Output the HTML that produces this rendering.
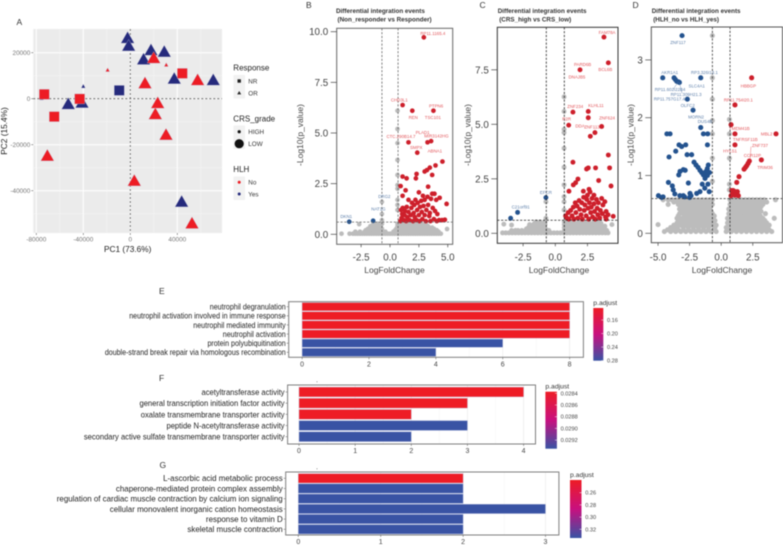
<!DOCTYPE html>
<html lang="en">
<head>
<meta charset="utf-8">
<title>Differential integration events figure</title>
<style>
html,body{margin:0;padding:0;background:#fff;width:783px;height:546px;overflow:hidden}
svg{display:block;filter:blur(.4px);font-family:"Liberation Sans",sans-serif}
</style>
</head>
<body>
<svg id="fig" xmlns="http://www.w3.org/2000/svg" width="783" height="546" viewBox="0 0 783 546">
  <rect width="783" height="546" fill="#fff"/>
  <text x="16.5" y="25" font-size="8.5" fill="#333">A</text>
  <text x="306" y="8" font-size="8.5" fill="#333">B</text>
  <text x="479.5" y="8" font-size="8.5" fill="#333">C</text>
  <text x="632.5" y="8" font-size="8.5" fill="#333">D</text>
  <text x="159" y="294" font-size="8.5" fill="#333">E</text>
  <text x="159" y="381" font-size="8.5" fill="#333">F</text>
  <text x="159.5" y="468" font-size="8.5" fill="#333">G</text>

  <g id="pca"></g>
  <g id="pca-legend">
    <text x="233.3" y="70.5" font-size="8" fill="#222">Response</text>
    <rect x="233.5" y="75" width="11.5" height="23.5" fill="#f2f2f2"/>
    <rect x="237.5" y="79.3" width="3.4" height="3.4" fill="#222"/>
    <polygon points="239.2,91 241.2,94.4 237.2,94.4" fill="#222"/>
    <text x="248.3" y="83.4" font-size="6.3" fill="#333">NR</text>
    <text x="248.3" y="95.4" font-size="6.3" fill="#333">OR</text>
    <text x="233.3" y="121.5" font-size="8" fill="#222">CRS_grade</text>
    <rect x="233.5" y="125.5" width="11.5" height="23.5" fill="#f2f2f2"/>
    <circle cx="239.2" cy="131.7" r="1.6" fill="#111"/>
    <circle cx="239.2" cy="143.7" r="4.6" fill="#111"/>
    <text x="248.3" y="134" font-size="6.3" fill="#333">HIGH</text>
    <text x="248.3" y="146" font-size="6.3" fill="#333">LOW</text>
    <text x="233.3" y="171.8" font-size="8" fill="#222">HLH</text>
    <rect x="233.5" y="176.5" width="11.5" height="23.5" fill="#f2f2f2"/>
    <circle cx="239.2" cy="182.3" r="1.5" fill="#ed1c24"/>
    <circle cx="239.2" cy="194" r="1.5" fill="#252a7c"/>
    <text x="248.3" y="184.6" font-size="6.3" fill="#333">No</text>
    <text x="248.3" y="196.3" font-size="6.3" fill="#333">Yes</text>
  </g>

  <g id="volB"></g>
  <g id="volC"></g>
  <g id="volD"></g>
  <g id="barE"></g>
  <g id="barF"></g>
  <g id="barG"></g>
  <circle cx="317" cy="381.7" r=".5" fill="#777"/>
  <circle cx="317" cy="468.7" r=".5" fill="#777"/>
</svg>

<script>
/* ---------- Panel A data ---------- */
const pc1 = [-2.3,-1.4,17.6,28.9,11.3,37.4,70.6,-52.8,-41.1,43.7,19.9,12.5,57.3,23.3,21.3,30.4,-70.6,3.4,52.5,-19.3,30.6,-40,-75.5,-73.2,-64.7,-43.1,44.3,-9.4];
const pc2 = [26.7,23.3,21.4,20.7,17.4,9,8.4,-2,-1.4,-44.5,18,7,8.4,-1.6,-6.4,-15.4,-24.5,-35.4,-53.9,12.6,14.8,5.5,0.3,1.9,-7.8,-0.1,11,3.6];
const response = ['OR','OR','OR','OR','OR','OR','OR','OR','OR','OR','OR','OR','OR','OR','OR','OR','OR','OR','OR','OR','OR','OR','OR','NR','NR','NR','NR','NR'];
const crsGrade = ['LOW','LOW','LOW','LOW','LOW','LOW','LOW','LOW','LOW','LOW','LOW','LOW','LOW','LOW','LOW','LOW','LOW','LOW','LOW','HIGH','HIGH','HIGH','HIGH','LOW','LOW','LOW','LOW','LOW'];
const hlh = ['Yes','Yes','Yes','Yes','Yes','Yes','Yes','Yes','Yes','Yes','No','No','No','No','No','No','No','No','No','No','No','Yes','Yes','No','No','No','No','Yes'];
const pcaXTicks = [-80000,-40000,0,40000];
const pcaXMinor = [-60000,-20000,20000,60000];
const pcaYTicks = [-40000,-20000,0,20000];
const pcaYMinor = [-50000,-30000,-10000,10000];

/* ---------- Panel B data ---------- */
const bGreyRows = [
 [0.03,[-4.2,-3.5,-3.2,-3,-2.8,-2.6,-2.4,-2.2,-2,-1.8,-1.6,-1.4,-1.2,-1,-.8,-.6,-.4,-.2,0,.2,.4,.6,.8,1,1.2,1.4,1.6,1.8,2,2.2,2.4,2.6,2.8,3,3.2,3.4,3.6,3.8,4,4.2,4.4]],
 [0.13,[-3,-2.6,-2.2,-1.9,-1.6,-1.3,-1,-.7,-.4,.3,.6,.9,1.2,1.5,1.8,2.1,2.4,2.7,3,3.3,3.6,3.9,4.2]],
 [0.2,[-2.1,-1.75,-1.45,-1.15,-.85,.45,.75,1.05,1.35,1.65,1.95,2.25,2.55,2.85,3.15,3.45,3.75,4.05]],
 [0.27,[-1.9,-1.6,-1.3,-1,-.7,.55,.8,1.1,1.4,1.7,2,2.3,2.6,2.9,3.2,3.5,3.8]],
 [0.33,[-1.75,-1.45,-1.15,-.85,.7,.95,1.25,1.55,1.85,2.15,2.45,2.75,3.05,3.35,3.65]],
 [0.4,[-1.7,-1.4,-1.1,-.8,.65,.9,1.2,1.5,1.8,2.1,2.4,2.7,3,3.3]],
 [0.46,[-1.5,-1.25,-.95,.75,1.05,1.35,1.65,1.95,2.25,2.55,2.85,3.15]],
 [0.52,[-1.4,-1.1,-.7,.65,.9,1.2,1.5,1.9,2.3,2.7,3.1]]
];
const bGreyExtra = [[-2.67,.5],[4.94,.26],[-.7,.7],[-.7,1],[-.7,1.6],[.65,6.1],[.65,5.2],[.65,4.5],[.65,3.67],[.65,2.93],[.65,2.43],[.65,2.25],[.65,1.7],[.65,1.45],[.65,1.2]];
const bBlue = [[-3.53,.62],[-1.46,.67]];
const bRed = [[2.93,9.72],[1.09,6.38],[1.93,6.1],[3.76,6.1],[1.6,4.54],[3.25,4.54],[3.56,4.6],[2.36,4.03],[4.54,3.59],[3.94,3.4],[3.45,3.29],[3.2,3.17],[3,3.1],[1.09,2.85],[1.44,2.76],[2.3,2.98],[2.24,2.76],[3.65,2.93],[3.3,2.35],[.92,2.38],[1.35,2.17],[2.5,2.07],[1.09,1.9],
 [.9,.65],[1,.8],[1.05,1],[.95,1.2],[1.1,1.3],[1.2,.7],[1.25,.95],[1.3,1.15],[1.4,.65],[1.45,1.35],[1.5,.85],[1.6,1.1],[1.6,1.7],[1.7,.7],[1.8,.95],[1.85,1.3],[1.9,1.55],[2,.65],[2.05,1.05],[2.1,1.45],[2.15,.85],[2.2,1.7],[2.3,.7],[2.35,1.2],[2.4,1.55],[2.5,.95],[2.55,.65],[2.6,1.35],[2.7,1.65],[2.75,1.1],[2.8,.75],[2.85,1.9],[2.9,1.4],[3,.95],[3,1.7],[3.1,.65],[3.15,1.2],[3.25,1.85],[3.3,1.45],[3.4,.9],[3.45,1.05],[3.5,.65],[3.55,1.75],[3.65,2],[3.7,1.3],[3.8,.75],[3.85,2],[3.9,1.15],[4,1.7],[4.05,.65],[4.1,1],[4.25,.7],[4.3,1.8],[4.5,.7],[4.75,.72],[4.9,1.5]];
const bRedLabels = [['RP11.1165.4',3.71,9.92],['CHD3L1',.8,6.63],['PTPN6',3.99,6.33],['REN',2.01,5.76],['TSC101',3.71,5.76],['CTC.290B14.7',.95,4.82],['PLAD1',2.82,5.02],['MIR3142HG',4.02,4.85],['SMPX',2.27,4.29],['ABNA1',3.88,4.11]];
const bBlueLabels = [['DKN1',-3.79,.87],['NAT1G',-1,1.25],['DRG2',-.49,1.86]];
const bLeaders = [];
const bXTicks = [-2.5,0,2.5,5];
const bXTickLabels = ['-2.5','0.0','2.5','5.0'];
const bYTicks = [0,2.5,5,7.5,10];
const bYTickLabels = ['0.0','2.5','5.0','7.5','10.0'];

/* ---------- Panel C data ---------- */
const cGreyRows = [
 [0.02,[-4.1,-3.85,-3.6,-3.35,-3.1,-2.85,-2.6,-2.35,-2.1,-1.85,-1.6,-1.35,-1.1,-.85,-.6,-.35,-.1,.15,.4,.65,.9,1.15,1.4,1.65,1.9,2.15,2.4,2.65,2.9,3.15,3.4,3.65,3.9,4.1]],
 [0.13,[-3.4,-3.1,-2.9,-2.6,-2.3,-2,-1.7,-1.4,-1.1,-.8,-.5,.7,1,1.3,1.6,1.9,2.2,2.5,2.8,3.1,3.4,3.7,4]],
 [0.2,[-2.25,-1.95,-1.65,-1.35,-1.05,-.75,.85,1.15,1.45,1.75,2.05,2.35,2.65,2.95,3.25,3.55,3.85]],
 [0.26,[-2.1,-1.8,-1.5,-1.2,-.9,.7,1,1.3,1.6,1.9,2.2,2.5,2.8,3.1,3.4,3.7]],
 [0.33,[-1.85,-1.55,-1.25,-.95,.85,1.15,1.45,1.75,2.05,2.35,2.65,2.95,3.25,3.55,3.85]],
 [0.4,[-2,-1.7,-1.4,-1.1,-.8,.7,1,1.3,1.6,1.9,2.2,2.5,2.8,3.1,3.4,4.4]],
 [0.46,[-1.6,-1.3,-1,.85,1.15,1.45,1.75,2.05,2.35,2.65,2.95,3.25,3.55]],
 [0.52,[-1.5,-1.2,-.8,.7,1,1.4,1.8,2.2,2.6,3,3.4]]
];
const cGreyExtra = [[-4,.42],[-3.4,.38],[-.73,1.45],[-.73,.69],[.68,6.26],[.68,5.59],[.68,4.77],[.68,4.62],[.68,3.9],[.68,3.03],[.68,2.22],[.68,1.68],[.68,1.45],[.68,1.07]];
const cBlue = [[-.73,1.64],[-2.93,.96],[-3.47,.69]];
const cRed = [[3.78,9],[4.12,7.82],[1.92,7.5],[1.37,5.56],[2.56,5.59],[2.56,5.3],[1.04,4.96],[3.6,4.9],[3.08,4.62],[2.72,4.45],[4.12,3.59],[1.37,3.26],[4.22,3],[3.13,3],[2.56,3],[2.43,2.95],[3.37,2.42],[1.76,2.49],[1.58,2.32],[1.4,2.22],[4.33,2.17],[1.06,1.93],[2.18,1.93],[2.62,2.02],
 [.8,.8],[.9,.7],[1,.95],[1.05,.65],[1.2,1.05],[1.3,.8],[1.4,1.2],[1.45,.65],[1.55,1.4],[1.6,.95],[1.7,1.25],[1.75,.7],[1.85,1.5],[1.9,1.1],[2,.85],[2.05,1.4],[2.1,.65],[2.2,1.65],[2.25,1.05],[2.3,1.3],[2.4,.8],[2.45,1.55],[2.5,1.75],[2.55,1.15],[2.6,.65],[2.65,1.4],[2.7,1.9],[2.75,.95],[2.8,1.2],[2.85,1.6],[2.9,.75],[3,1.35],[3,1.75],[3.05,1],[3.1,.65],[3.2,1.55],[3.25,1.15],[3.3,.85],[3.35,1.4],[3.45,.7],[3.5,1.05],[3.6,1.6],[3.65,.9],[3.7,1.3],[3.85,1.45],[3.9,.75],[3.95,1],[4.1,.85],[4.5,.78],[3.95,.65]];
const cRedLabels = [['FAM78A',4.02,9.2],['PARD6B',2.12,7.74],['BCL6B',3.89,7.52],['DNAJB5',1.68,7.16],['ZNF234',1.55,5.82],['KLHL11',3.16,5.86],['ZNF624',4.02,5.3],['R2R',.88,5.25],['DDA',1.92,4.92],['ZNF113',2.85,4.87]];
const cBlueLabels = [['EFCR',-.73,1.87],['C21orf91',-2.69,1.21]];
const cLeaders = [];
const cXTicks = [-2.5,0,2.5];
const cXTickLabels = ['-2.5','0.0','2.5'];
const cYTicks = [0,2.5,5,7.5];
const cYTickLabels = ['0.0','2.5','5.0','7.5'];

/* ---------- Panel D data ---------- */
const dGreyRows = [
 [0.58,[-4.6,-4.2,-3.9,-3.6,-3.3,-3,-2.7,-2.4,-2.1,-1.8,-1.5,-1.2,-.9,-.7,.7,1,1.3,1.6,1.9,2.2,2.5,2.8,3.1,3.4,4.3]],
 [0.54,[-3.75,-3.45,-3.15,-2.85,-2.55,-2.25,-1.95,-1.65,-1.35,-1.05,.85,1.15,1.45,1.75,2.05,2.35,2.65,2.95,3.25,3.6]],
 [0.5,[-4.2,-3.4,-3,-2.6,-2.2,-1.8,-1.4,-1,-.7,.7,1,1.4,1.8,2.2,2.6,3,3.3]],
 [0.46,[-3.2,-2.8,-2.4,-2,-1.6,-1.2,-.85,.8,1.2,1.6,2,2.4,2.8,3.15]],
 [0.42,[-3.3,-2.9,-2.5,-2.1,-1.7,-1.3,-.9,.6,1,1.4,1.8,2.2,2.6,3]],
 [0.38,[-3.1,-2.7,-2.3,-1.9,-1.5,-1.1,-.8,.75,1.15,1.55,1.95,2.35,2.75,3.15]],
 [0.34,[-3.3,-3,-2.6,-2.2,-1.8,-1.4,-1,-.7,.6,.9,1.3,1.7,2.1,2.5,2.9,3.5]],
 [0.3,[-3.4,-2.85,-2.45,-2.05,-1.65,-1.25,-.85,-.55,.75,1.1,1.5,1.9,2.3,2.7,3.1]],
 [0.26,[-3.5,-3.1,-2.7,-2.3,-1.9,-1.5,-1.1,-.7,.5,.9,1.3,1.7,2.1,2.5,2.9,3.3,4.2]],
 [0.22,[-3.3,-2.85,-2.45,-2.05,-1.65,-1.25,-.85,-.5,.7,1.05,1.45,1.85,2.25,2.65,3.05,3.45]],
 [0.18,[-3.5,-3,-2.6,-2.2,-1.8,-1.4,-1,-.6,.5,.8,1.2,1.6,2,2.4,2.8,3.2,3.6]],
 [0.14,[-3.75,-3.25,-2.8,-2.4,-2,-1.6,-1.2,-.8,-.4,.6,1,1.4,1.8,2.2,2.6,3,3.4,3.8]],
 [0.1,[-4,-3.5,-3,-2.6,-2.2,-1.8,-1.4,-1,-.5,.4,.8,1.2,1.6,2,2.4,2.8,3.2,3.6]],
 [0.06,[-4.25,-3.8,-3.4,-3,-2.6,-2.2,-1.8,-1.4,-1,-.6,.6,1,1.4,1.8,2.2,2.6,3,3.4,3.8]],
 [0.03,[-4.5,-4,-3.6,-3.2,-2.8,-2.4,-2,-1.6,-1.2,-.8,-.4,.4,.8,1.2,1.6,2,2.4,2.8,3.2,3.6,4]]
];
const dGreyExtra = [[-5,.15],[-.7,3.42],[-.7,2.69],[-.7,2.32],[-.7,1.95],[-.7,1.72],[-.7,1.3],[-.7,.9],[.65,1.97],[.65,1.72],[.65,1.3],[.65,.85],[.65,.75]];
const dBlue = [[-3.1,3.42],[-4.63,2.69],[-3.73,2.69],[-3.63,2.66],[-3.52,2.63],[-3.39,2.62],[-3.31,2.61],[-1.62,2.69],[-2.68,2.32],[-2.23,2.13],[-1.62,1.83],[-4.3,1.72],[-4.05,1.72],[-1.41,1.72],[-1.07,1.72],[-1.09,1.53],[-3.34,1.53],[-3.13,1.5],[-2.81,1.53],[-3.6,1.42],[-4.13,1.32],[-2.34,1.36],[-2.7,1.36],[-2.15,1.23],[-1.99,1.18],[-1.83,1.14],[-1.68,1.09],[-1.54,1.05],[-3,1.1],[-3.26,1.07],[-3.36,1.01],[-2.85,1.09],[-1.02,1.18],[-1.1,1.12],[-1.2,1.07],[-1.41,1.01],[-1.28,.95],[-1.09,1],[-.93,1.05],[-4.18,.88],[-3.87,.82],[-3.8,.75],[-3.67,.68],[-2.6,.87],[-.95,.72],[-1.68,.72],[-1.94,.69],[-2.47,.69],[-2.39,.65],[-3,.65],[-3.27,.65],[-4.97,.65],[-4.71,.62],[-1.05,.85],[-1.5,.85],[-1.3,.78],[-2.5,.62],[-2.9,.63],[-4.6,.63]];
const dRed = [[2.41,2.69],[1.09,2.22],[.78,1.88],[4.34,1.72],[1.09,1.72],[1.09,1.53],[3.18,1.27],[2.23,1.25],[2.13,1.21],[2.02,1.17],[1.92,1.14],[1.81,1.11],[1.41,.98],[1.23,.88],[.83,.74],[1.09,.72],[1.28,.72],[.88,.68],[1.09,.66],[1.36,.65],[.78,.65],[.95,.74]];
const dRedLabels = [['HBBGP',2.15,2.55],['RP11.754I20.1',1.36,2.31],['TMEM41B',1.44,1.81],['TNFRSF11B',1.91,1.62],['ZNF737',3.07,1.52],['HYLS1',.7,1.42],['CCR12P',2.47,1.35],['TRIM36',3.47,1.14],['MBL2',3.6,1.72]];
const dBlueLabels = [['ZNF117',-3.42,3.3],['AKR1A1',-4.08,2.78],['RP3.326I13.1',-1.33,2.78],['SLC4A1',-1.94,2.55],['RP11.602I22B4',-4.05,2.49],['RP11.309H21.3',-2.78,2.4],['RP11.757G17.4',-4.1,2.32],['OLFC2',-2.65,2.21],['MORN2',-1.99,2.01],['DUS4B',-1.28,1.93]];
const dLeaders = [[-3.39,2.62,-3.78,2.5,'#5f80ab'],[-3.31,2.61,-3.1,2.42,'#5f80ab'],[2.36,1.5,2.28,1.27,'#e2555a']];
const dXTicks = [-5,-2.5,0,2.5];
const dXTickLabels = ['-5.0','-2.5','0.0','2.5'];
const dYTicks = [0,1,2,3];
const dYTickLabels = ['0','1','2','3'];

/* ---------- Bar panels data ---------- */
const eTerms = ['neutrophil degranulation','neutrophil activation involved in immune response','neutrophil mediated immunity','neutrophil activation','protein polyubiquitination','double-strand break repair via homologous recombination'];
const eCounts = [8,8,8,8,6,4];
const ePAdjust = [0.14,0.14,0.14,0.14,0.285,0.285];
const eXTicks = [0,2,4,6,8];
const eXMinor = [1,3,5,7];
const eLegendTicks = [0.16,0.20,0.24,0.28];
const eLegendLabels = ['0.16','0.20','0.24','0.28'];

const fTerms = ['acetyltransferase activity','general transcription initiation factor activity','oxalate transmembrane transporter activity','peptide N-acetyltransferase activity','secondary active sulfate transmembrane transporter activity'];
const fCounts = [4,3,2,3,2];
const fPAdjust = [0.0284,0.0284,0.0284,0.0293,0.0293];
const fXTicks = [0,1,2,3,4];
const fXMinor = [.5,1.5,2.5,3.5];
const fLegendTicks = [0.0284,0.0286,0.0288,0.0290,0.0292];
const fLegendLabels = ['0.0284','0.0286','0.0288','0.0290','0.0292'];

const gTerms = ['L-ascorbic acid metabolic process','chaperone-mediated protein complex assembly','regulation of cardiac muscle contraction by calcium ion signaling','cellular monovalent inorganic cation homeostasis','response to vitamin D','skeletal muscle contraction'];
const gCounts = [2,2,2,3,2,2];
const gPAdjust = [0.245,0.335,0.335,0.335,0.335,0.335];
const gXTicks = [0,1,2,3];
const gXMinor = [.5,1.5,2.5];
const gLegendTicks = [0.26,0.28,0.30,0.32];
const gLegendLabels = ['0.26','0.28','0.30','0.32'];

/* ---------- Helpers ---------- */
const NS = 'http://www.w3.org/2000/svg';
function mk(parent, tag, attrs, txt) {
  const el = document.createElementNS(NS, tag);
  for (const k in attrs) el.setAttribute(k, attrs[k]);
  if (txt !== undefined) el.textContent = txt;
  parent.appendChild(el);
  return el;
}
function flattenRows(rows) {
  const out = [];
  rows.forEach(function (r) { r[1].forEach(function (x) { out.push([x, r[0]]); }); });
  return out;
}
function lerpColor(t) {
  const stops = [[238,28,37],[200,16,127],[57,83,164]];
  const s = Math.max(0, Math.min(1, t)) * 2;
  const i = Math.min(1, Math.floor(s));
  const f = s - i;
  const c = [0,1,2].map(function (n) { return Math.round(stops[i][n] + (stops[i+1][n] - stops[i][n]) * f); });
  return 'rgb(' + c.join(',') + ')';
}

/* ---------- Panel A ---------- */
(function () {
  const g = document.getElementById('pca');
  const L = 33.3, R = 222, T = 29, B = 233;
  const sx = function (v) { return 130.3 + v * 0.001175; };
  const sy = function (v) { return 98.7 - v * 0.0023; };
  const bg = mk(g, 'rect', {x: L, y: T, width: R - L, height: B - T, fill: '#ebebeb'});
  
  
  pcaXMinor.forEach(function (v) {
    const l = mk(g, 'line', {x1: sx(v), x2: sx(v), y1: T, y2: B, stroke: '#f6f6f6', 'stroke-width': .5});
    
    
  });
  pcaYMinor.forEach(function (v) {
    const l = mk(g, 'line', {x1: L, x2: R, y1: sy(v), y2: sy(v), stroke: '#f6f6f6', 'stroke-width': .5});
    
    
  });
  pcaXTicks.forEach(function (v) {
    const l = mk(g, 'line', {x1: sx(v), x2: sx(v), y1: T, y2: B, stroke: '#fff', 'stroke-width': 1});
    
    
    const k = mk(g, 'line', {x1: sx(v), x2: sx(v), y1: B, y2: B + 2, stroke: '#666', 'stroke-width': .6});
    
    
    const t = mk(g, 'text', {x: sx(v), y: B + 8.3, 'font-size': 6.4, fill: '#777', 'text-anchor': 'middle'}, String(v));
    
    
  });
  pcaYTicks.forEach(function (v) {
    const l = mk(g, 'line', {x1: L, x2: R, y1: sy(v), y2: sy(v), stroke: '#fff', 'stroke-width': 1});
    
    
    const k = mk(g, 'line', {x1: L - 2, x2: L, y1: sy(v), y2: sy(v), stroke: '#666', 'stroke-width': .6});
    
    
    const t = mk(g, 'text', {x: L - 3, y: sy(v) + 2.3, 'font-size': 6.4, fill: '#777', 'text-anchor': 'end'}, String(v));
    
    
  });
  const h0 = mk(g, 'line', {x1: L, x2: R, y1: sy(0), y2: sy(0), stroke: '#555', 'stroke-width': .8, 'stroke-dasharray': '2 2'});
  
  
  const v0 = mk(g, 'line', {x1: sx(0), x2: sx(0), y1: T, y2: B, stroke: '#555', 'stroke-width': .8, 'stroke-dasharray': '2 2'});
  
  
  pc1.forEach(function (v, i) {
    const cx = sx(v * 1000), cy = sy(pc2[i] * 1000);
    const col = hlh[i] === 'No' ? '#ed1c24' : '#252a7c';
    const big = crsGrade[i] === 'LOW';
    let m;
    if (response[i] === 'NR') {
      const s = big ? 5 : 1.7;
      m = mk(g, 'rect', {x: cx - s, y: cy - s, width: 2 * s, height: 2 * s, fill: col, stroke: 'rgba(190,190,215,.6)', 'stroke-width': .5});
    } else {
      const w = big ? 6.6 : 2, h = big ? 5.8 : 1.9;
      m = mk(g, 'polygon', {points: cx + ',' + (cy - h) + ' ' + (cx + w) + ',' + (cy + h) + ' ' + (cx - w) + ',' + (cy + h), fill: col, stroke: 'rgba(190,190,215,.6)', 'stroke-width': .5});
    }
    
    
  });
  const xt = mk(g, 'text', {x: 127.7, y: 252, 'font-size': 8.3, fill: '#222', 'text-anchor': 'middle'}, 'PC1 (73.6%)');
  
  
  const yt = mk(g, 'text', {transform: 'translate(7,131) rotate(-90)', 'font-size': 8.3, fill: '#222', 'text-anchor': 'middle'}, 'PC2 (15.4%)');
  
  
})();

/* ---------- Volcano panels ---------- */
function drawVolcano(id, c, grey, blue, red, redLabels, blueLabels, leaders, xT, xTL, yT, yTL, title1, title2) {
  const g = document.getElementById(id);
  const sx = function (v) { return c.x0 + v * c.kx; };
  const sy = function (v) { return c.y0 - v * c.ky; };
  const bg = mk(g, 'rect', {x: c.L, y: c.T, width: c.R - c.L, height: c.B - c.T, fill: '#fff'});
  
  
  grey.forEach(function (p) {
    const m = mk(g, 'circle', {cx: sx(p[0]), cy: sy(p[1]), r: c.r, fill: '#bcbcbc'});
    
    
  });
  blue.forEach(function (p) {
    const m = mk(g, 'circle', {cx: sx(p[0]), cy: sy(p[1]), r: c.r, fill: '#24538f'});
    
    
  });
  red.forEach(function (p) {
    const m = mk(g, 'circle', {cx: sx(p[0]), cy: sy(p[1]), r: c.r, fill: '#cd1f2b'});
    
    
  });
  [-0.7, 0.7].forEach(function (v) {
    const l = mk(g, 'line', {x1: sx(v), x2: sx(v), y1: c.T, y2: c.B, stroke: c.dash, 'stroke-width': .8, 'stroke-dasharray': '2.2 1.6'});
    
    
  });
  const hl = mk(g, 'line', {x1: c.L, x2: c.R, y1: sy(0.6), y2: sy(0.6), stroke: c.dash, 'stroke-width': .8, 'stroke-dasharray': '2.2 1.6'});
  
  
  leaders.forEach(function (p) {
    const l = mk(g, 'line', {x1: sx(p[0]), y1: sy(p[1]), x2: sx(p[2]), y2: sy(p[3]), stroke: p[4], 'stroke-width': .4});
    
    
  });
  redLabels.forEach(function (p) {
    const t = mk(g, 'text', {x: sx(p[1]), y: sy(p[2]) + 1.5, 'font-size': 4.4, fill: '#e2555a', 'text-anchor': 'middle'}, p[0]);
    
    
  });
  blueLabels.forEach(function (p) {
    const t = mk(g, 'text', {x: sx(p[1]), y: sy(p[2]) + 1.5, 'font-size': 4.4, fill: '#5f80ab', 'text-anchor': 'middle'}, p[0]);
    
    
  });
  const fr = mk(g, 'rect', {x: c.L, y: c.T, width: c.R - c.L, height: c.B - c.T, fill: 'none', stroke: c.frame, 'stroke-width': 1});
  
  
  xT.forEach(function (v, i) {
    const k = mk(g, 'line', {x1: sx(v), x2: sx(v), y1: c.B, y2: c.B + 3, stroke: '#444', 'stroke-width': .7});
    
    
    const t = mk(g, 'text', {x: sx(v), y: 260.5, 'font-size': 9.8, fill: '#444', 'text-anchor': 'middle'}, xTL[i]);
    
    
  });
  yT.forEach(function (v, i) {
    const k = mk(g, 'line', {x1: c.L - 6, x2: c.L, y1: sy(v), y2: sy(v), stroke: '#444', 'stroke-width': .7});
    
    
    const t = mk(g, 'text', {x: c.L - 8.5, y: sy(v) + 3.5, 'font-size': 9.8, fill: '#444', 'text-anchor': 'end'}, yTL[i]);
    
    
  });
  const xa = mk(g, 'text', {x: c.xTitleX, y: 273, 'font-size': 8.5, fill: '#444', 'text-anchor': 'middle'}, 'LogFoldChange');
  
  
  const ya = mk(g, 'text', {transform: 'translate(' + c.yTitleX + ',135) rotate(-90)', 'font-size': 8.5, fill: '#444', 'text-anchor': 'middle'}, '-Log10(p_value)');
  
  
  const t1 = mk(g, 'text', {x: c.tx, y: 13, 'font-size': 6.3, 'font-weight': 'bold', fill: '#333'}, title1);
  
  
  const t2 = mk(g, 'text', {x: c.tx + 1.5, y: 21.5, 'font-size': 6.3, 'font-weight': 'bold', fill: '#333'}, title2);
  
  
}
drawVolcano('volB', {L:336.7,R:452.7,T:28.3,B:244.3,x0:390,kx:11.55,y0:234.3,ky:20.26,r:2.35,dash:'#666',frame:'#666',xTitleX:394.5,yTitleX:303,tx:336},
  flattenRows(bGreyRows).concat(bGreyExtra), bBlue, bRed, bRedLabels, bBlueLabels, bLeaders, bXTicks, bXTickLabels, bYTicks, bYTickLabels,
  'Differential integration events', '(Non_responder vs Responder)');
drawVolcano('volC', {L:497.3,R:618,T:27.3,B:243.3,x0:555.3,kx:12.87,y0:233.3,ky:21.8,r:2.45,dash:'#222',frame:'#333',xTitleX:559,yTitleX:470.5,tx:497.7},
  flattenRows(cGreyRows).concat(cGreyExtra), cBlue, cRed, cRedLabels, cBlueLabels, cLeaders, cXTicks, cXTickLabels, cYTicks, cYTickLabels,
  'Differential integration events', '(CRS_high vs CRS_low)');
drawVolcano('volD', {L:651.3,R:782.5,T:27,B:242.7,x0:721.2,kx:12.63,y0:233.3,ky:57.8,r:2.55,dash:'#333',frame:'#555',xTitleX:722,yTitleX:633.5,tx:651.7},
  flattenRows(dGreyRows).concat(dGreyExtra), dBlue, dRed, dRedLabels, dBlueLabels, dLeaders, dXTicks, dXTickLabels, dYTicks, dYTickLabels,
  'Differential integration events', '(HLH_no vs HLH_yes)');

/* ---------- Bar panels ---------- */
function drawBars(id, c, terms, counts, padj, xT, xM, legT, legL) {
  const g = document.getElementById(id);
  const sx = function (v) { return c.x0 + v * c.kx; };
  const pMin = Math.min.apply(null, padj), pMax = Math.max.apply(null, padj);
  xM.forEach(function (v) {
    const l = mk(g, 'line', {x1: sx(v), x2: sx(v), y1: c.T, y2: c.B, stroke: '#f3f3f3', 'stroke-width': .5});
    
    
  });
  xT.forEach(function (v) {
    const l = mk(g, 'line', {x1: sx(v), x2: sx(v), y1: c.T, y2: c.B, stroke: '#e8e8e8', 'stroke-width': .6});
    
    
  });
  const step = (c.lastY - c.firstY) / (terms.length - 1);
  terms.forEach(function (term, i) {
    const cy = c.firstY + step * i;
    const b = mk(g, 'rect', {x: sx(0), y: cy - c.barH / 2, width: sx(counts[i]) - sx(0), height: c.barH, fill: lerpColor((padj[i] - pMin) / (pMax - pMin)), stroke: 'rgba(190,195,225,.7)', 'stroke-width': .5});
    
    
    const k = mk(g, 'line', {x1: c.L - 2, x2: c.L, y1: cy, y2: cy, stroke: '#555', 'stroke-width': .5});
    
    
    const t = mk(g, 'text', {transform: 'translate(' + (c.L - 3) + ',' + (cy + 2.9) + ') scale(' + c.squeeze + ',1)', 'font-size': c.fs, fill: '#222', 'text-anchor': 'end'}, term);
    
    
  });
  const fr = mk(g, 'rect', {x: c.L, y: c.T, width: c.R - c.L, height: c.B - c.T, fill: 'none', stroke: '#7f7f7f', 'stroke-width': 1});
  
  
  xT.forEach(function (v) {
    const k = mk(g, 'line', {x1: sx(v), x2: sx(v), y1: c.B, y2: c.B + 2, stroke: '#555', 'stroke-width': .5});
    
    
    const t = mk(g, 'text', {x: sx(v), y: c.B + 9, 'font-size': 7, fill: '#444', 'text-anchor': 'middle'}, String(v));
    
    
  });
  const title = mk(g, 'text', {x: c.legX, y: c.legT - 3, 'font-size': 6.8, fill: '#333'}, 'p.adjust');
  
  
  const grad = mk(g, 'linearGradient', {id: id + 'Grad', x1: 0, y1: 0, x2: 0, y2: 1});
  [0, .5, 1].forEach(function (o) { mk(grad, 'stop', {offset: o, 'stop-color': lerpColor(o)}); });
  const cb = mk(g, 'rect', {x: c.legX, y: c.legT, width: c.legW, height: c.legB - c.legT, fill: 'url(#' + id + 'Grad)'});
  
  
  legT.forEach(function (v, i) {
    const cy = c.legY0 + (v - legT[0]) * c.legK;
    const k = mk(g, 'line', {x1: c.legX + c.legW - 2, x2: c.legX + c.legW, y1: cy, y2: cy, stroke: '#fff', 'stroke-width': .5});
    
    
    const t = mk(g, 'text', {x: c.legX + c.legW + 3.7, y: cy + 2, 'font-size': 5.6, fill: '#444'}, legL[i]);
    
    
  });
}
drawBars('barE', {L:288.7,R:583.4,T:301.7,B:357.3,x0:302.1,kx:33.44,firstY:306.7,lastY:352.3,barH:8.2,fs:8,squeeze:.885,legX:593.3,legW:10,legT:308,legB:360.7,legY0:320,legK:338.3}, eTerms, eCounts, ePAdjust, eXTicks, eXMinor, eLegendTicks, eLegendLabels);
drawBars('barF', {L:287.6,R:535.5,T:385,B:444,x0:299,kx:56.15,firstY:392,lastY:436.7,barH:9.8,fs:8.5,squeeze:.895,legX:545.4,legW:11.5,legT:391.7,legB:448.7,legY0:393.3,legK:58500}, fTerms, fCounts, fPAdjust, fXTicks, fXMinor, fLegendTicks, fLegendLabels);
drawBars('barG', {L:285.7,R:558.9,T:472,B:535,x0:298.3,kx:82.4,firstY:478.3,lastY:529.3,barH:9.4,fs:8.5,squeeze:.935,legX:570,legW:11.5,legT:480,legB:538,legY0:492.7,legK:610}, gTerms, gCounts, gPAdjust, gXTicks, gXMinor, gLegendTicks, gLegendLabels);
</script>
</body>
</html>
